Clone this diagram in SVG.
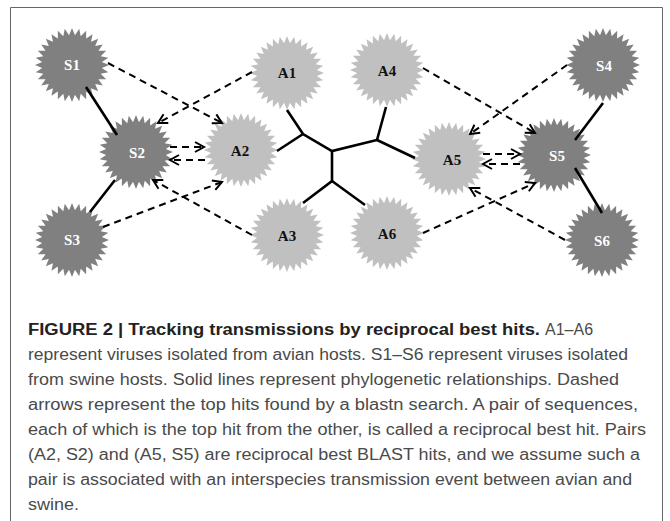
<svg xmlns="http://www.w3.org/2000/svg" xmlns:xlink="http://www.w3.org/1999/xlink" width="670" height="521" viewBox="0 0 670 521">
  <style>
    .swine { fill: #808080; }
    .avian { fill: #c0c0c0; }
    .lbl { font-family: "Liberation Serif", "Times New Roman", serif; font-weight: bold; font-size: 15px; text-anchor: middle; }
    .lbl-s { fill: #ffffff; }
    .lbl-a { fill: #111111; }
    .tree { fill: none; stroke: #000; stroke-width: 2.6; stroke-linecap: butt; stroke-linejoin: miter; }
    .hit { fill: none; stroke: #000; stroke-width: 2; stroke-dasharray: 7 5; marker-end: url(#chev); }
    .cap { font-family: "Liberation Sans", Arial, Helvetica, sans-serif; font-size: 16px; fill: #4a4a4a; }
    .cap-b { font-weight: bold; fill: #222; }
  </style>
  <defs>
    <!-- 32-point starburst, outer radius 37, inner radius 30 -->
    <path id="burst" d="M37,0 L29.86,2.94 L36.29,7.22 L28.71,8.71 L34.18,14.16 L26.46,14.14 L30.76,20.56 L23.19,19.03 L26.16,26.16 L19.03,23.19 L20.56,30.76 L14.14,26.46 L14.16,34.18 L8.71,28.71 L7.22,36.29 L2.94,29.86 L0,37 L-2.94,29.86 L-7.22,36.29 L-8.71,28.71 L-14.16,34.18 L-14.14,26.46 L-20.56,30.76 L-19.03,23.19 L-26.16,26.16 L-23.19,19.03 L-30.76,20.56 L-26.46,14.14 L-34.18,14.16 L-28.71,8.71 L-36.29,7.22 L-29.86,2.94 L-37,0 L-29.86,-2.94 L-36.29,-7.22 L-28.71,-8.71 L-34.18,-14.16 L-26.46,-14.14 L-30.76,-20.56 L-23.19,-19.03 L-26.16,-26.16 L-19.03,-23.19 L-20.56,-30.76 L-14.14,-26.46 L-14.16,-34.18 L-8.71,-28.71 L-7.22,-36.29 L-2.94,-29.86 L0,-37 L2.94,-29.86 L7.22,-36.29 L8.71,-28.71 L14.16,-34.18 L14.14,-26.46 L20.56,-30.76 L19.03,-23.19 L26.16,-26.16 L23.19,-19.03 L30.76,-20.56 L26.46,-14.14 L34.18,-14.16 L28.71,-8.71 L36.29,-7.22 L29.86,-2.94 Z"/>
    <marker id="chev" markerUnits="userSpaceOnUse" markerWidth="14" markerHeight="14" viewBox="-11 -7 14 14" refX="0" refY="0" orient="auto">
      <path d="M-9,-5 L0,0 L-9,5" fill="none" stroke="#000" stroke-width="2" stroke-dasharray="none"/>
    </marker>
  </defs>

  <rect width="670" height="521" fill="#ffffff"/>
  <!-- panel frame, open at the bottom -->
  <path d="M10.5,521 L10.5,7.5 L662.5,7.5 L662.5,521" fill="none" stroke="#666" stroke-width="1"/>

  <!-- nodes -->
  <g id="S1"><use xlink:href="#burst" class="swine" transform="translate(72,65)"/><text class="lbl lbl-s" x="72" y="70">S1</text></g>
  <g id="A1"><use xlink:href="#burst" class="avian" transform="translate(287,73)"/><text class="lbl lbl-a" x="287" y="78">A1</text></g>
  <g id="S2"><use xlink:href="#burst" class="swine" transform="translate(136,152)"/><text class="lbl lbl-s" x="137" y="158">S2</text></g>
  <g id="A2"><use xlink:href="#burst" class="avian" transform="translate(241,150)"/><text class="lbl lbl-a" x="240" y="156">A2</text></g>
  <g id="S3"><use xlink:href="#burst" class="swine" transform="translate(72,240)"/><text class="lbl lbl-s" x="72" y="245">S3</text></g>
  <g id="A3"><use xlink:href="#burst" class="avian" transform="translate(287,235)"/><text class="lbl lbl-a" x="287" y="241">A3</text></g>
  <g id="A4"><use xlink:href="#burst" class="avian" transform="translate(387,70)"/><text class="lbl lbl-a" x="387" y="76">A4</text></g>
  <g id="S4"><use xlink:href="#burst" class="swine" transform="translate(603,65)"/><text class="lbl lbl-s" x="604" y="71">S4</text></g>
  <g id="A5"><use xlink:href="#burst" class="avian" transform="translate(449,159)"/><text class="lbl lbl-a" x="452" y="165">A5</text></g>
  <g id="S5"><use xlink:href="#burst" class="swine" transform="translate(554,155)"/><text class="lbl lbl-s" x="557" y="161">S5</text></g>
  <g id="A6"><use xlink:href="#burst" class="avian" transform="translate(387,233)"/><text class="lbl lbl-a" x="387" y="239">A6</text></g>
  <g id="S6"><use xlink:href="#burst" class="swine" transform="translate(602,240)"/><text class="lbl lbl-s" x="602" y="246">S6</text></g>

  <!-- connectors -->
  <g id="connectors">
    <!-- phylogenetic relationships -->
    <path class="tree" d="M86,87 L117,135"/>
    <path class="tree" d="M115,180 L90,212"/>
    <path class="tree" d="M603,103 L575,140"/>
    <path class="tree" d="M575,168 L602,213"/>
    <path class="tree" d="M287,110 L303,134 L332,151 L377,140 L386,107"/>
    <path class="tree" d="M277,151 L303,134"/>
    <path class="tree" d="M377,140 L415,158"/>
    <path class="tree" d="M332,151 L332,181 L303,203"/>
    <path class="tree" d="M332,181 L365,205"/>
    <!-- top blastn hits -->
    <path class="hit" d="M108,63 L222,123"/>
    <path class="hit" d="M252,72 L158,123"/>
    <path class="hit" d="M170,147 L204,147"/>
    <path class="hit" d="M205,160 L170,160"/>
    <path class="hit" d="M103,227 L222,182"/>
    <path class="hit" d="M252,235 L153,180"/>
    <path class="hit" d="M423,68 L535,133"/>
    <path class="hit" d="M567,65 L470,134"/>
    <path class="hit" d="M483,154 L520,154"/>
    <path class="hit" d="M520,164 L483,164"/>
    <path class="hit" d="M423,233 L535,183"/>
    <path class="hit" d="M565,240 L470,188"/>
  </g>

  <!-- caption -->
  <g id="caption">
    <text class="cap cap-b" x="28" y="335" textLength="512" lengthAdjust="spacingAndGlyphs">FIGURE 2 | Tracking transmissions by reciprocal best hits.</text>
    <text class="cap" x="545" y="335">A1–A6</text>
    <text class="cap" x="28" y="360" textLength="600" lengthAdjust="spacingAndGlyphs">represent viruses isolated from avian hosts. S1–S6 represent viruses isolated</text>
    <text class="cap" x="28" y="385" textLength="591" lengthAdjust="spacingAndGlyphs">from swine hosts. Solid lines represent phylogenetic relationships. Dashed</text>
    <text class="cap" x="28" y="410" textLength="610" lengthAdjust="spacingAndGlyphs">arrows represent the top hits found by a blastn search. A pair of sequences,</text>
    <text class="cap" x="28" y="435" textLength="618" lengthAdjust="spacingAndGlyphs">each of which is the top hit from the other, is called a reciprocal best hit. Pairs</text>
    <text class="cap" x="28" y="460" textLength="612" lengthAdjust="spacingAndGlyphs">(A2, S2) and (A5, S5) are reciprocal best BLAST hits, and we assume such a</text>
    <text class="cap" x="28" y="485" textLength="604" lengthAdjust="spacingAndGlyphs">pair is associated with an interspecies transmission event between avian and</text>
    <text class="cap" x="28" y="510" textLength="51" lengthAdjust="spacingAndGlyphs">swine.</text>
  </g>
</svg>
